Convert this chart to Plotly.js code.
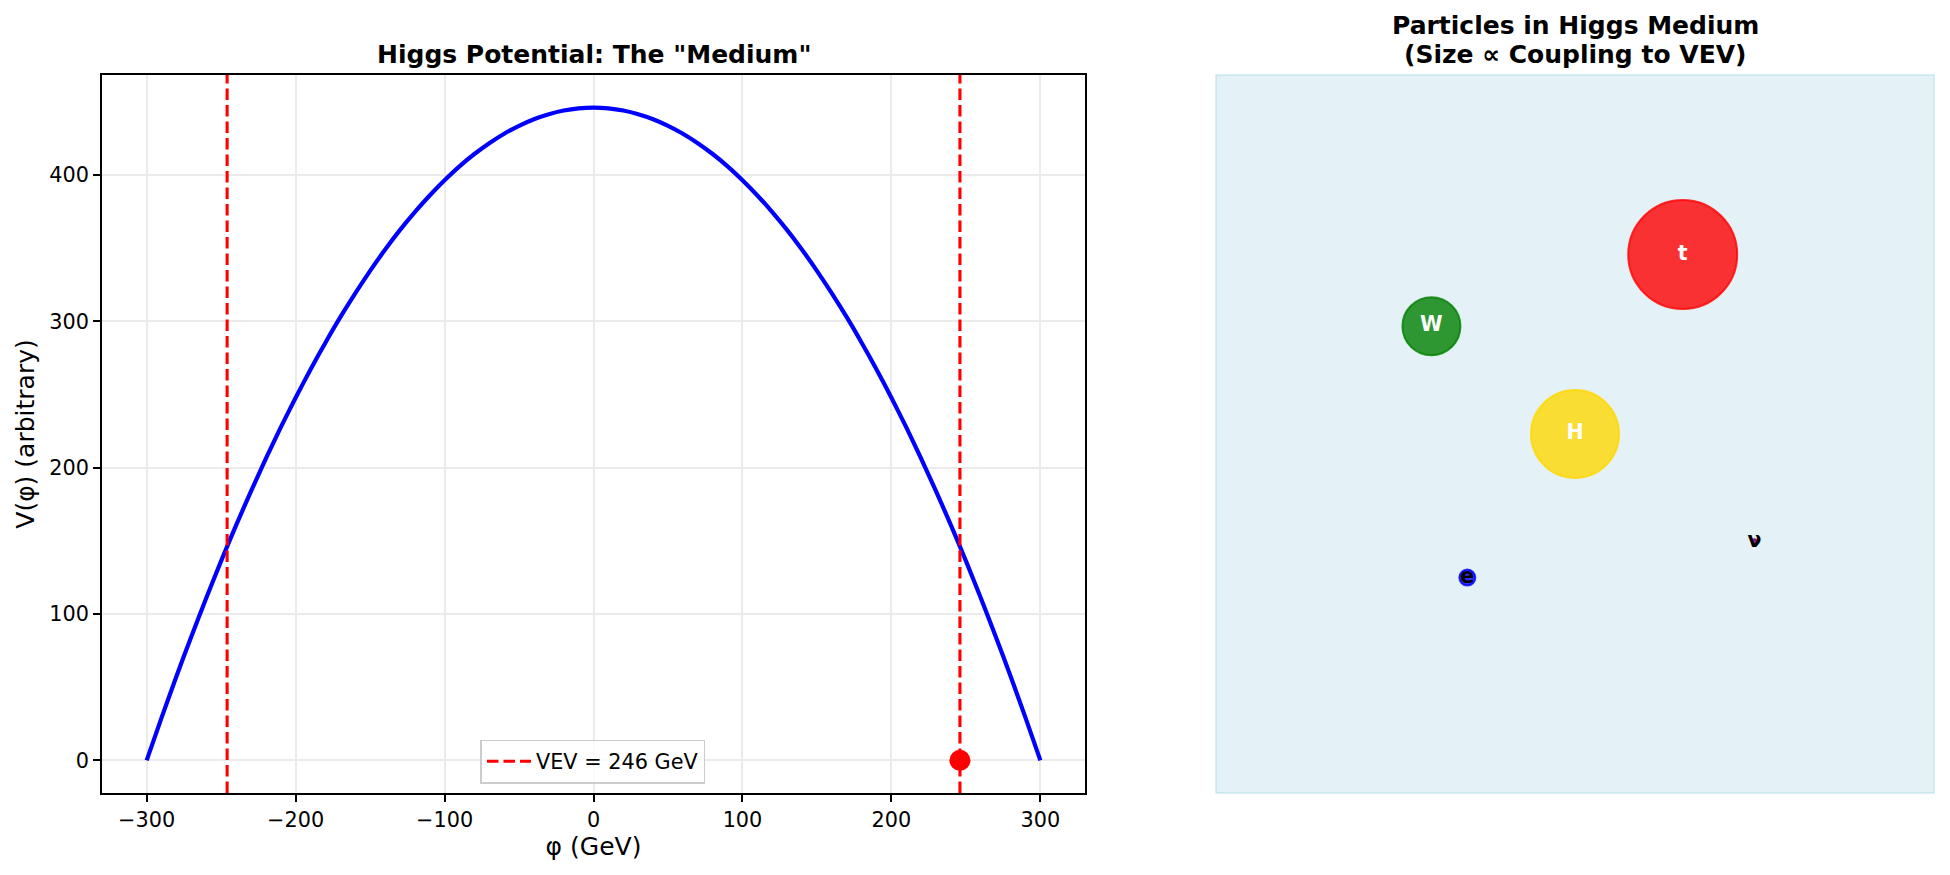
<!DOCTYPE html>
<html>
<head>
<meta charset="utf-8">
<script src="https://cdn.plot.ly/plotly-3.0.1.min.js"></script>
<style>
  html, body { margin: 0; padding: 0; background: #ffffff; }
  #chart { width: 1950px; height: 875px; }
</style>
</head>
<body>
<div id="chart"></div>
<script>
// ===== Datos =====
const phiValues = [
  -300, -290, -280, -270, -260, -250, -240, -230, -220, -210,
  -200, -190, -180, -170, -160, -150, -140, -130, -120, -110,
  -100, -90, -80, -70, -60, -50, -40, -30, -20, -10,
  0, 10, 20, 30, 40, 50, 60, 70, 80, 90,
  100, 110, 120, 130, 140, 150, 160, 170, 180, 190,
  200, 210, 220, 230, 240, 250, 260, 270, 280, 290, 300];
const potentialValues = [
  0, 29.2, 57.5, 84.7, 111.0, 136.3, 160.6, 183.8, 206.1, 227.5,
  247.8, 267.1, 285.4, 302.8, 319.1, 334.5, 348.9, 362.3, 374.6, 386.0,
  396.4, 405.9, 414.3, 421.7, 428.2, 433.6, 438.1, 441.5, 444.0, 445.5,
  446.0, 445.5, 444.0, 441.5, 438.1, 433.6, 428.2, 421.7, 414.3, 405.9,
  396.4, 386.0, 374.6, 362.3, 348.9, 334.5, 319.1, 302.8, 285.4, 267.1,
  247.8, 227.5, 206.1, 183.8, 160.6, 136.3, 111.0, 84.7, 57.5, 29.2, 0];
const vevValue = 246;
const vacuumX = [246];
const vacuumY = [0];

const particleNames = ['t', 'W', 'H', 'e', 'ν'];
const particleX = [6.5, 3.0, 5.0, 3.5, 7.5];
const particleY = [7.5, 6.5, 5.0, 3.0, 3.5];

// ===== Estilos =====
const FONT = 'DejaVu Sans, sans-serif';
const PARTICLE_COLORS = ['rgba(255,0,0,0.8)', 'rgba(0,128,0,0.8)', 'rgba(255,215,0,0.8)',
                         'rgba(0,0,255,0.8)', 'rgba(128,0,128,0.8)'];
const PARTICLE_SIZES = [109, 58, 88, 16, 5];
const LABEL_COLORS = ['#ffffff', '#ffffff', '#ffffff', '#000000', '#000000'];
const X_RANGE = [-330, 330];
const Y_RANGE = [-22.3, 468.3];

const axisBase = {
  showline: true, mirror: true, linecolor: '#000000', linewidth: 1.7,
  ticks: 'outside', ticklen: 7, tickwidth: 1.7, tickcolor: '#000000',
  showgrid: true, gridcolor: '#ebebeb', gridwidth: 1.7, zeroline: false,
  tickfont: { family: FONT, size: 20.8, color: '#000000' },
  automargin: false,
};

const traceCurve = {
  type: 'scatter', mode: 'lines',
  x: phiValues, y: potentialValues,
  line: { color: '#0000ff', width: 4.2, shape: 'spline', smoothing: 0.6 },
  showlegend: false, xaxis: 'x', yaxis: 'y',
};

const traceVevLeft = {
  type: 'scatter', mode: 'lines',
  x: [-vevValue, -vevValue], y: Y_RANGE,
  line: { color: '#ff0000', width: 3.1, dash: '11.5px,5px' },
  showlegend: false, xaxis: 'x', yaxis: 'y',
};

const traceVevRight = {
  type: 'scatter', mode: 'lines', name: 'VEV = 246 GeV',
  x: [vevValue, vevValue], y: Y_RANGE,
  line: { color: '#ff0000', width: 3.1, dash: '11.5px,5px' },
  xaxis: 'x', yaxis: 'y',
};

const traceVacuum = {
  type: 'scatter', mode: 'markers',
  x: vacuumX, y: vacuumY,
  marker: { color: '#ff0000', size: 21 },
  showlegend: false, xaxis: 'x', yaxis: 'y',
};

const traceParticles = {
  type: 'scatter', mode: 'markers+text',
  x: particleX, y: particleY, text: particleNames,
  textposition: 'middle center',
  textfont: { family: FONT, size: 20.5, color: LABEL_COLORS, weight: 'bold' },
  marker: {
    size: PARTICLE_SIZES, color: PARTICLE_COLORS, opacity: 1,
    line: { color: PARTICLE_COLORS, width: 2 },
  },
  showlegend: false, cliponaxis: false, xaxis: 'x2', yaxis: 'y2',
};

const layout = {
  width: 1950, height: 875,
  margin: { l: 102, r: 16, t: 75, b: 82 },
  paper_bgcolor: '#ffffff', plot_bgcolor: '#ffffff',
  font: { family: FONT, color: '#000000' },
  xaxis: {
    ...axisBase, domain: [0, 0.5366], range: X_RANGE,
    tickvals: [-300, -200, -100, 0, 100, 200, 300],
    title: { text: 'φ (GeV)', font: { family: FONT, size: 25, color: '#000000' }, standoff: 2 },
  },
  yaxis: {
    ...axisBase, domain: [0, 1], range: Y_RANGE,
    tickvals: [0, 100, 200, 300, 400],
    title: { text: 'V(φ) (arbitrary)', font: { family: FONT, size: 25, color: '#000000' }, standoff: 8 },
  },
  xaxis2: { domain: [0.6081, 1], range: [0, 10], visible: false },
  yaxis2: { domain: [0, 1], range: [0, 10], visible: false, anchor: 'x2' },
  shapes: [{
    type: 'rect', xref: 'x2 domain', yref: 'y2 domain', x0: 0, x1: 1, y0: 0, y1: 1,
    fillcolor: 'rgba(173,216,230,0.33)', line: { color: 'rgba(173,216,230,0.6)', width: 1.5 },
    layer: 'below',
  }],
  annotations: [
    { text: '<b>Higgs Potential: The "Medium"</b>', xref: 'x domain', yref: 'paper',
      x: 0.5, y: 1.029, xanchor: 'center', yanchor: 'middle', showarrow: false,
      font: { family: FONT, size: 25, color: '#000000' } },
    { text: '<b>Particles in Higgs Medium</b>', xref: 'x2 domain', yref: 'paper',
      x: 0.5, y: 1.069, xanchor: 'center', yanchor: 'middle', showarrow: false,
      font: { family: FONT, size: 25, color: '#000000' } },
    { text: '<b>(Size ∝ Coupling to VEV)</b>', xref: 'x2 domain', yref: 'paper',
      x: 0.5, y: 1.029, xanchor: 'center', yanchor: 'middle', showarrow: false,
      font: { family: FONT, size: 25, color: '#000000' } },
  ],
  legend: {
    x: 0.268, xanchor: 'center', y: 0.013, yanchor: 'bottom',
    bgcolor: 'rgba(255,255,255,0.8)', bordercolor: '#cccccc', borderwidth: 1.5,
    itemwidth: 44,
    font: { family: FONT, size: 20.8, color: '#000000' },
  },
};

Plotly.newPlot('chart', [traceCurve, traceVevLeft, traceVevRight, traceVacuum, traceParticles],
  layout, { displayModeBar: false, responsive: false });
</script>
</body>
</html>
